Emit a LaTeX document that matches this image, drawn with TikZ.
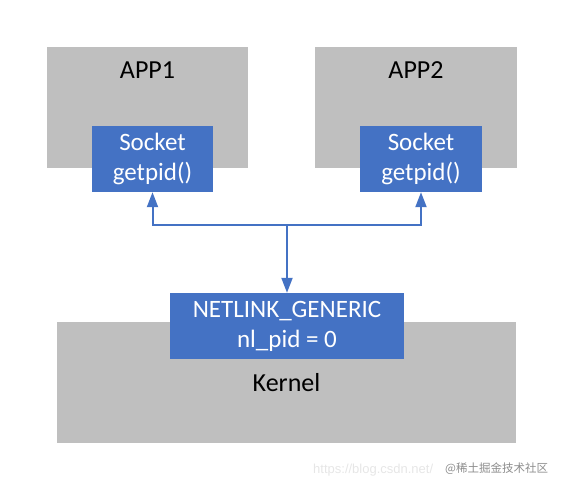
\documentclass[tikz,border=0pt]{standalone}
\usepackage{fontspec}
\setmainfont{Carlito}
\newfontfamily\cjk{Noto Sans CJK SC}
\newfontfamily\wmfont{Liberation Sans}
\usetikzlibrary{arrows.meta}
\definecolor{boxgray}{HTML}{BFBFBF}
\definecolor{boxblue}{HTML}{4472C4}
\definecolor{wmlight}{HTML}{E6E6E6}
\definecolor{wmdark}{HTML}{8C8C8C}
\tikzset{
  graybox/.style={fill=boxgray, draw=none, inner sep=0pt, rectangle},
  bluebox/.style={fill=boxblue, draw=none, inner sep=0pt, rectangle, text=white, align=center, font=\fontsize{25}{30}\selectfont},
  darktext/.style={inner sep=0pt, text=black, font=\fontsize{26}{30}\selectfont},
  conn/.style={draw=boxblue, line width=2pt, -{Triangle[length=15pt,width=11pt]}},
  plainconn/.style={draw=boxblue, line width=2pt}
}
\begin{document}
\begin{tikzpicture}[x=1pt,y=-1pt]
\useasboundingbox (0,0) rectangle (565,490);
% kernel and netlink
\node[graybox, minimum width=459pt, minimum height=121pt, darktext] (kernel) at (286.5,382.5) {Kernel};
\node[bluebox, minimum width=234pt, minimum height=66pt] (net) at (287,326) {NETLINK\_GENERIC\\nl\_pid = 0};
% apps
\node[graybox, minimum width=201pt, minimum height=121pt] (app1) at (147.5,107.5) {};
\node[darktext] (app1t) at (147.5,70) {APP1};
\node[graybox, minimum width=202pt, minimum height=121pt] (app2) at (416,107.5) {};
\node[darktext] (app2t) at (416,70) {APP2};
% sockets
\node[bluebox, minimum width=121pt, minimum height=66pt] (s1) at (152.5,159) {Socket\\getpid()};
\node[bluebox, minimum width=122pt, minimum height=66pt] (s2) at (421,159) {Socket\\getpid()};
% connectors
\coordinate (j) at (287,225);
\draw[conn] (j) -| (s1.south);
\draw[conn] (j) -| (s2.south);
\draw[conn] (j) -- (net.north);
% watermark
\node[anchor=west, inner sep=0pt, text=wmlight, font=\wmfont\fontsize{13}{15}\selectfont] (wm1) at (313,470) {https://blog.csdn.net/};
\node[anchor=west, inner sep=0pt, text=wmdark, font=\cjk\fontsize{11.5}{14}\selectfont] (wm2) at (445,469) {@稀土掘金技术社区};
\end{tikzpicture}
\end{document}
